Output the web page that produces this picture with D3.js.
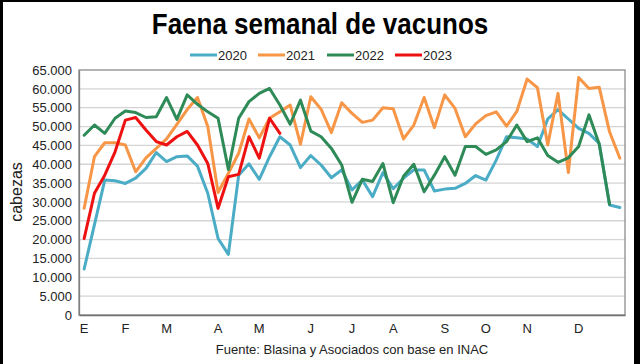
<!DOCTYPE html>
<html>
<head>
<meta charset="utf-8">
<script src="https://cdn.jsdelivr.net/npm/d3@7"></script>
<style>
  html, body { margin: 0; padding: 0; background: #fff; }
  svg { display: block; font-family: "Liberation Sans", Arial, sans-serif; }
</style>
</head>
<body>
<svg id="chart" width="640" height="364"></svg>
<script>
const weeks = d3.range(53);
const monthTickIdx = [0, 4, 8, 13, 17, 22, 26, 30, 35, 39, 43, 48];
const monthLabels = ["E", "F", "M", "A", "M", "J", "J", "A", "S", "O", "N", "D"];
const yTicks = d3.range(0, 65001, 5000);
const seriesNames = ["2020", "2021", "2022", "2023"];

const v2020 = [12200, 24000, 35800, 35600, 34900, 36300, 38900, 43100, 40700, 42000, 42200, 39500, 32300, 20300, 16100, 37100, 40100, 36000, 42000, 47300, 45100, 39100, 42300, 39800, 36400, 38500, 33200, 35800, 31400, 37800, 33500, 36300, 38500, 38500, 32900, 33400, 33600, 34900, 37000, 35800, 41100, 47300, 47000, 46700, 44700, 52000, 54500, 52000, 49500, 48200, 45500, 29200, 28500];
const v2021 = [28300, 42000, 45700, 45700, 45100, 38000, 41700, 44200, 46700, 50600, 54500, 57700, 50000, 32500, 37600, 42900, 52000, 47000, 52200, 53900, 55700, 45300, 57900, 54600, 48400, 56300, 53500, 51100, 51700, 55000, 54700, 46700, 50400, 57700, 49700, 58400, 54800, 47300, 50700, 52900, 53900, 50100, 54000, 62600, 60300, 45100, 58800, 37800, 63000, 60100, 60400, 48600, 41600];
const v2022 = [47700, 50400, 48200, 52200, 54100, 53700, 52400, 52600, 57700, 51900, 58400, 55900, 53900, 52200, 38600, 52200, 56600, 58800, 60100, 55700, 50600, 57000, 48800, 47300, 44200, 39800, 29900, 36000, 35400, 40200, 29800, 36800, 40000, 32700, 37100, 42000, 37100, 44700, 44700, 42600, 43800, 46000, 50400, 46000, 47000, 42300, 40500, 41700, 44700, 53100, 45300, 29400];
const v2023 = [20300, 32300, 37100, 43300, 51700, 52400, 49100, 46000, 45100, 47300, 48700, 45100, 40200, 28300, 36700, 37300, 47300, 41600, 52200, 48200];
const seriesValues = [v2020, v2021, v2022, v2023];
const seriesColors = ["#4bacc6", "#f79646", "#2e8b57", "#ee1111"];

const svg = d3.select("#chart");
const W = 640, H = 364;
const plot = { left: 79, right: 625, top: 70, bottom: 315 };

svg.append("rect").attr("width", W).attr("height", H).attr("fill", "#fff");

const x = d3.scaleBand().domain(weeks).range([plot.left, plot.right]);
const xc = i => x(i) + x.bandwidth() / 2;
const y = d3.scaleLinear().domain([0, 65000]).range([plot.bottom, plot.top]);

const loc = d3.formatLocale({ decimal: ",", thousands: ".", grouping: [3], currency: ["", ""] });
const fmt = loc.format(",");

// gridlines
svg.append("g").selectAll("line").data(yTicks.filter(d => d > 0 && d < 65000)).join("line")
  .attr("x1", plot.left).attr("x2", plot.right)
  .attr("y1", d => y(d)).attr("y2", d => y(d))
  .attr("stroke", "#d4d4d4").attr("stroke-width", 1.3);

// plot border
svg.append("rect")
  .attr("x", plot.left).attr("y", plot.top)
  .attr("width", plot.right - plot.left).attr("height", plot.bottom - plot.top)
  .attr("fill", "none").attr("stroke", "#8c8c8c").attr("stroke-width", 1.3);

// y axis
const yAxis = d3.axisLeft(y).tickValues(yTicks).tickFormat(fmt).tickSize(0).tickPadding(7);
const gy = svg.append("g").attr("transform", `translate(${plot.left},0)`).call(yAxis);
gy.select(".domain").attr("stroke", "#808080").attr("stroke-width", 1.3);
gy.selectAll("text").attr("font-size", 13).attr("fill", "#222").attr("font-family", "Liberation Sans, Arial, sans-serif");

// x axis
const xAxis = d3.axisBottom(x).tickValues(monthTickIdx).tickFormat((d, i) => monthLabels[i]).tickSize(0).tickPadding(9);
const gx = svg.append("g").attr("transform", `translate(0,${plot.bottom})`).call(xAxis);
gx.select(".domain").attr("stroke", "#707070").attr("stroke-width", 1.5);
gx.selectAll("text").attr("font-size", 13).attr("fill", "#222").attr("font-family", "Liberation Sans, Arial, sans-serif");

// lines
const line = d3.line().x((d, i) => xc(i)).y(d => y(d));
svg.append("g").selectAll("path").data(seriesValues).join("path")
  .attr("d", d => line(d))
  .attr("fill", "none")
  .attr("stroke", (d, i) => seriesColors[i])
  .attr("stroke-width", 3)
  .attr("stroke-linejoin", "round")
  .attr("stroke-linecap", "round");

// title
svg.append("text")
  .attr("transform", "translate(320,34) scale(1,1.15)")
  .attr("text-anchor", "middle")
  .attr("font-size", 26).attr("font-weight", "bold").attr("fill", "#000")
  .text("Faena semanal de vacunos");

// legend
const legendX = [190, 258, 327, 395];
const lg = svg.append("g");
seriesNames.forEach((n, i) => {
  lg.append("line").attr("x1", legendX[i]).attr("x2", legendX[i] + 27)
    .attr("y1", 55).attr("y2", 55).attr("stroke", seriesColors[i]).attr("stroke-width", 3);
  lg.append("text").attr("x", legendX[i] + 28).attr("y", 60)
    .attr("font-size", 13).attr("fill", "#222").text(n);
});

// y label
svg.append("text")
  .attr("transform", "translate(22,192) rotate(-90)")
  .attr("text-anchor", "middle").attr("font-size", 16).attr("fill", "#222")
  .text("cabezas");

// source
svg.append("text").attr("x", 352).attr("y", 354).attr("text-anchor", "middle")
  .attr("font-size", 13).attr("fill", "#222")
  .text("Fuente: Blasina y Asociados con base en INAC");

// outer frame
svg.append("rect").attr("x", 0).attr("y", 0).attr("width", 3).attr("height", H).attr("fill", "#000");
svg.append("rect").attr("x", 0).attr("y", 0).attr("width", W).attr("height", 2).attr("fill", "#000");
svg.append("rect").attr("x", 634).attr("y", 0).attr("width", 6).attr("height", H).attr("fill", "#000");
</script>
</body>
</html>
